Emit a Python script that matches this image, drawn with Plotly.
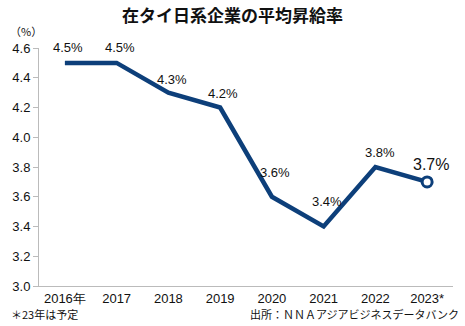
import plotly.graph_objects as go

years = ["2016年", "2017", "2018", "2019", "2020", "2021", "2022", "2023*"]
rates = [4.5, 4.5, 4.3, 4.2, 3.6, 3.4, 3.8, 3.7]
labels = ["4.5%", "4.5%", "4.3%", "4.2%", "3.6%", "3.4%", "3.8%", "3.7%"]
yticks = [3.0, 3.2, 3.4, 3.6, 3.8, 4.0, 4.2, 4.4, 4.6]

LINE = "#0d3f7a"
FONT = "Liberation Sans Narrow, Liberation Sans, sans-serif"
JP = "Noto Sans CJK JP, sans-serif"

# label offsets (pixels) – styling only
label_dx = [3, 3, 4, 3, 3, 3, 5, 4]
label_dy = [15, 15, 13, 14, 24, 25, 15, 17]

fig = go.Figure()
fig.add_trace(go.Scatter(
    x=list(range(len(years))), y=rates, mode="lines",
    line=dict(color=LINE, width=4.5), hoverinfo="skip", showlegend=False))
fig.add_trace(go.Scatter(
    x=[len(years) - 1], y=[rates[-1]], mode="markers",
    marker=dict(size=10, color="white", line=dict(color=LINE, width=3)),
    hoverinfo="skip", showlegend=False))

for i, (v, t) in enumerate(zip(rates, labels)):
    last = i == len(rates) - 1
    fig.add_annotation(x=i, y=v, text=t, showarrow=False,
                       xshift=label_dx[i], yshift=label_dy[i],
                       xanchor="center", yanchor="middle",
                       font=dict(family=FONT, size=16 if last else 13, color="#111"))

fig.update_layout(
    width=465, height=326,
    margin=dict(l=33, r=12, t=48, b=40),
    paper_bgcolor="white", plot_bgcolor="white",
    title=dict(text="<b>在タイ日系企業の平均昇給率</b>", x=0.5, xanchor="center",
               y=0.952, yanchor="middle",
               font=dict(family=JP, size=17, color="#111")),
    xaxis=dict(range=[-0.5, 7.5], tickmode="array",
               tickvals=list(range(len(years))), ticktext=years,
               showgrid=False, zeroline=False, showline=True,
               linecolor="#bbbbbb", linewidth=1, ticks="",
               tickfont=dict(family=FONT, size=13, color="#111")),
    yaxis=dict(range=[3.0, 4.6], tickmode="array", tickvals=yticks,
               ticktext=[f"{v:.1f}" for v in yticks],
               showgrid=False, zeroline=False, showline=True,
               linecolor="#bbbbbb", linewidth=1, ticks="outside",
               ticklen=5, tickcolor="#bbbbbb",
               tickfont=dict(family=FONT, size=13, color="#111")),
)

fig.add_annotation(text="（%）", xref="paper", yref="paper", x=-0.031, y=1.071,
                   xanchor="center", yanchor="middle", showarrow=False,
                   font=dict(family=JP, size=11, color="#111"))
fig.add_annotation(text="＊23年は予定", xref="paper", yref="paper", x=-0.072, y=-0.118,
                   xanchor="left", yanchor="middle", showarrow=False,
                   font=dict(family=JP, size=11, color="#111"))
fig.add_annotation(text="出所：ＮＮＡアジアビジネスデータバンク", xref="paper", yref="paper",
                   x=1.019, y=-0.118, xanchor="right", yanchor="middle", showarrow=False,
                   font=dict(family=JP, size=11, color="#111"))

fig.write_html("out.html")
